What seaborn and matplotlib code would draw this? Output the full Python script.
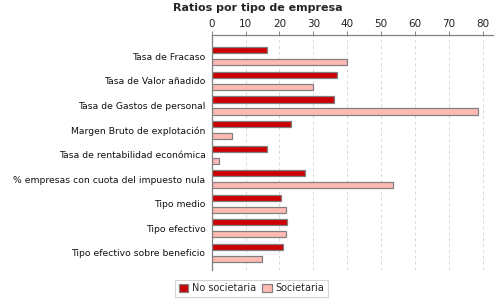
import matplotlib
matplotlib.use("Agg")
import matplotlib.pyplot as plt
import seaborn as sns
import pandas as pd

categories = ["Tasa de Fracaso", "Tasa de Valor añadido", "Tasa de Gastos de personal",
              "Margen Bruto de explotación", "Tasa de rentabilidad económica",
              "% empresas con cuota del impuesto nula", "Tipo medio", "Tipo efectivo",
              "Tipo efectivo sobre beneficio"]
no_societaria = [16.4, 37.1, 36.2, 23.5, 16.4, 27.6, 20.5, 22.3, 21.1]
societaria = [40.0, 30.0, 78.7, 6.1, 2.3, 53.6, 22.0, 22.0, 14.9]
series = ["No societaria", "Societaria"]
xticks = [0, 10, 20, 30, 40, 50, 60, 70, 80]

df = pd.DataFrame({
    "cat": categories * 2,
    "val": no_societaria + societaria,
    "serie": [series[0]] * len(categories) + [series[1]] * len(categories),
})

sns.set_style("white")
plt.rcParams['font.family'] = ['DejaVu Sans']

fig = plt.figure(figsize=(5, 3), dpi=100)
ax = fig.add_axes([0.4234, 0.10, 0.5626, 0.7833])
ax.set_axisbelow(True)
ax.xaxis.grid(True, linestyle=(0, (3, 3)), color="#d8d8d8", linewidth=0.7)

sns.barplot(data=df, y="cat", x="val", hue="serie", orient="h", ax=ax,
            palette=["#cc0000", "#ffbbb3"], saturation=1, width=0.98, gap=0.49,
            edgecolor="#808080", linewidth=0.9, legend=False, errorbar=None)

ax.set_xlim(0, 83)
ax.set_ylim(8.70, -0.87)
ax.set_xticks(xticks)
ax.xaxis.tick_top()
ax.tick_params(axis="x", top=True, length=3, width=0.7, color="#808080",
               labelsize=7.5, pad=1.5, labelcolor="#222222")
ax.tick_params(axis="y", left=False, length=0, labelsize=6.7, pad=4.5, labelcolor="#111111")
ax.set_xlabel("")
ax.set_ylabel("")
for s in ["right", "bottom"]:
    ax.spines[s].set_visible(False)
for s in ["left", "top"]:
    ax.spines[s].set_color("#808080")
    ax.spines[s].set_linewidth(0.9)

fig.text(0.515, 0.972, "Ratios por tipo de empresa", ha="center", va="center",
         fontsize=8, fontweight="bold")

from matplotlib.patches import Patch
handles = [Patch(facecolor="#cc0000", edgecolor="#808080", linewidth=0.9),
           Patch(facecolor="#ffbbb3", edgecolor="#808080", linewidth=0.9)]
leg = fig.legend(handles, series, loc="center", bbox_to_anchor=(0.503, 0.0385), ncol=2,
                 fontsize=7, frameon=True, fancybox=False, edgecolor="#c8c8c8",
                 handlelength=1.0, handleheight=1.0, handletextpad=0.4,
                 columnspacing=0.6, borderpad=0.35, borderaxespad=0)
leg.get_frame().set_linewidth(0.8)

fig.savefig("out.png", dpi=100)
